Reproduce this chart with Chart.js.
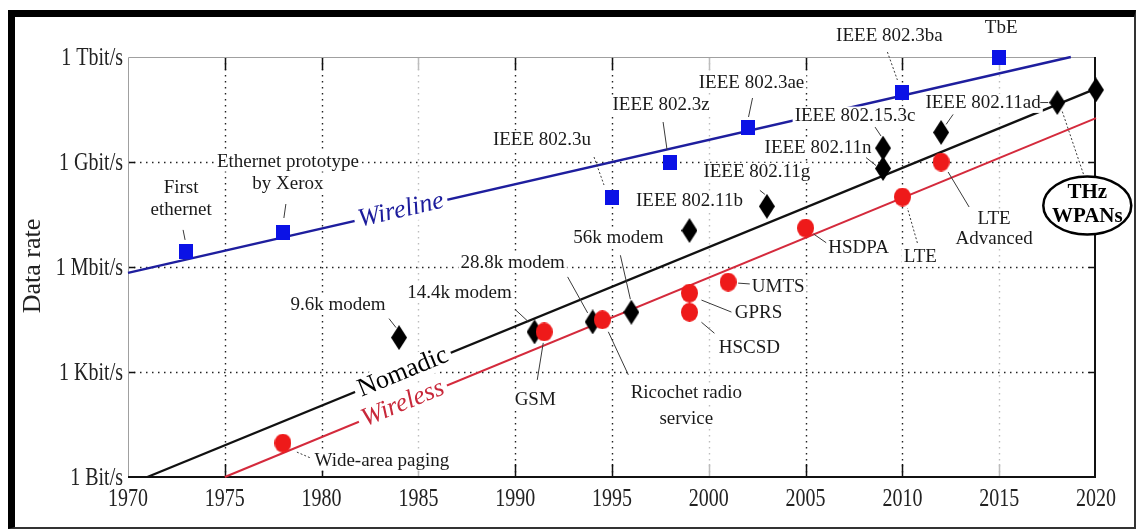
<!DOCTYPE html>
<html>
<head>
<meta charset="utf-8">
<title>Data rate</title>
<script src="https://cdn.jsdelivr.net/npm/chart.js@4.4.1/dist/chart.umd.min.js"></script>
<style>
  html, body { margin: 0; padding: 0; background: #fff; }
  #wrap { position: relative; width: 1136px; height: 529px; }
  #rateChart { display: block; }
  #frame {
    position: absolute; left: 8px; top: 10px; width: 1128px; height: 519px;
    box-sizing: border-box; pointer-events: none;
    border-left: 7px solid #000; border-top: 7px solid #000;
    border-right: 2px solid #333; border-bottom: 2px solid #333;
  }
</style>
</head>
<body>
<div id="wrap">
  <canvas id="rateChart" width="1136" height="529"></canvas>
  <div id="frame"></div>
</div>
<script>
// Ejes
const yearTicks = [1970, 1975, 1980, 1985, 1990, 1995, 2000, 2005, 2010, 2015, 2020];
const rateTicks = [1, 1e3, 1e6, 1e9, 1e12];
const rateTickLabels = ['1 Bit/s', '1 Kbit/s', '1 Mbit/s', '1 Gbit/s', '1 Tbit/s'];

// Wireline (cuadrados azules)
const wirelineYears = [1973, 1978, 1995, 1998, 2002, 2010, 2015];
const wirelineRates = [2.7e6, 1e7, 1e8, 1e9, 1e10, 1e11, 1e12];
const wirelineNames = [['First', 'ethernet'], ['Ethernet prototype', 'by Xerox'], ['IEEE 802.3u'],
  ['IEEE 802.3z'], ['IEEE 802.3ae'], ['IEEE 802.3ba'], ['TbE']];

// Nomadic (rombos negros)
const nomadicYears = [1984, 1991, 1994, 1996, 1999, 2003, 2009, 2009, 2012, 2018, 2020];
const nomadicRates = [9.6e3, 1.4e4, 2.7e4, 5.1e4, 1.1e7, 5.4e7, 6.5e8, 2.5e9, 7e9, 5e10, 1.15e11];
const nomadicNames = [['9.6k modem'], ['14.4k modem'], ['28.8k modem'], ['56k modem'], ['IEEE 802.11b'],
  ['IEEE 802.11g'], ['IEEE 802.11n'], ['IEEE 802.15.3c'], ['IEEE 802.11ad'], [], []];

// Wireless (círculos rojos)
const wirelessYears = [1978, 1991.5, 1994.5, 1999, 1999, 2001, 2005, 2010, 2012];
const wirelessRates = [9.3, 1.4e4, 3.1e4, 5.1e4, 1.8e5, 3.7e5, 1.3e7, 1e8, 1e9];
const wirelessNames = [['Wide-area paging'], ['GSM'], ['Ricochet radio', 'service'], ['HSCSD'], ['GPRS'],
  ['UMTS'], ['HSDPA'], ['LTE'], ['LTE', 'Advanced']];

// Rectas de tendencia
const wirelineTrendYears = [1970, 2018.7];
const wirelineTrendRates = [6.8e5, 1e12];
const nomadicTrendYears = [1971, 2020];
const nomadicTrendRates = [1, 1.25e11];
const wirelessTrendYears = [1975, 2020];
const wirelessTrendRates = [1, 1.8e10];
const trendNames = ['Wireline', 'Nomadic', 'Wireless'];
const thzName = ['THz', 'WPANs'];

// Posición de las etiquetas respecto a su marcador (px)
const wirelineNotes = [
  { dx: -5, dy: -64, lh: 22, lead: [-3, -22, -1, -12] },
  { dx: 5, dy: -70, lh: 22, lead: [3, -28, 1, -14] },
  { dx: -70, dy: -57, lead: [-18, -40, -8, -12], dash: true },
  { dx: -9, dy: -57, lead: [-7, -40, -3, -12] },
  { dx: 4, dy: -44, lead: [5, -29, 1, -10] },
  { dx: -13, dy: -56, lead: [-15, -40, -5, -12], dash: true },
  { dx: 2, dy: -29 }
];
const nomadicNotes = [
  { dx: -61, dy: -33, lead: [-10, -19, -3, -10] },
  { dx: -75, dy: -39, lead: [-19, -22, -6, -10] },
  { dx: -80, dy: -59, lead: [-25, -45, -5, -9] },
  { dx: -13, dy: -74, lead: [-11, -57, -1, -13] },
  { dx: 0, dy: -30 },
  { dx: -10, dy: -34, lead: [-7, -16, -2, -12] },
  { dx: -65, dy: -21, lead: [-17, -11, -7, -3] },
  { dx: -28, dy: -32, lead: [-8, -21, -2, -12] },
  { dx: 42, dy: -29, lead: [5, -8, 12, -18] },
  { lead: [-17, 0, -9, 0] },
  {}
];
const wirelessNotes = [
  { dx: 99, dy: 18, lead: [14, 9, 28, 15], dash: true },
  { dx: -9, dy: 68, lead: [-7, 48, -1, 11] },
  { dx: 84, dy: 73, lh: 26, lead: [26, 55, 6, 12] },
  { dx: 60, dy: 36, lead: [25, 21, 12, 10] },
  { dx: 69, dy: 20, lead: [42, 19, 12, 7] },
  { dx: 50, dy: 5, lead: [24, 2, 10, 1] },
  { dx: 53, dy: 20, lead: [21, 15, 8, 6] },
  { dx: 18, dy: 60, lead: [15, 46, 5, 11], dash: true },
  { dx: 53, dy: 57, lh: 20, lead: [28, 45, 7, 10] }
];
const thzNote = { of: 9, dx: 30, dy: 103, rx: 44, ry: 29, lead: [5, 9, 27, 74] };
const trendNotes = [
  { year: 1984.1, color: '#1c1c9c', font: 'italic 26px "Liberation Serif"' },
  { year: 1984.2, color: '#000', font: '26px "Liberation Serif"' },
  { year: 1984.2, color: '#c8283a', font: 'italic 26px "Liberation Serif"' }
];

const SERIF = '"Liberation Serif", "Times New Roman", serif';
const NOTE_FONT = '19px ' + SERIF;

// Marcadores dibujados a mano (los del original son algo alargados)
function makeMarker(w, h, draw) {
  const c = document.createElement('canvas');
  c.width = w; c.height = h;
  draw(c.getContext('2d'), w, h);
  return c;
}
const squareImg = makeMarker(14, 15, (g, w, h) => { g.fillStyle = '#0b12e6'; g.fillRect(0, 0, w, h); });
const diamondImg = makeMarker(16, 25, (g, w, h) => {
  g.fillStyle = '#000';
  g.beginPath(); g.moveTo(w / 2, 0); g.lineTo(w, h / 2); g.lineTo(w / 2, h); g.lineTo(0, h / 2); g.closePath(); g.fill();
});
const circleImg = makeMarker(17, 19, (g, w, h) => {
  g.fillStyle = '#ee1a1a';
  g.beginPath(); g.ellipse(w / 2, h / 2, w / 2, h / 2, 0, 0, Math.PI * 2); g.fill();
});

function txt(ctx, s, x, y, o) {
  ctx.save();
  ctx.translate(x, y);
  if (o.rot) ctx.rotate(o.rot);
  if (o.sy) ctx.scale(1, o.sy);
  ctx.font = o.font;
  ctx.textAlign = o.align || 'center';
  ctx.textBaseline = 'middle';
  if (o.bg) {
    const w = ctx.measureText(s).width;
    const x0 = o.align === 'right' ? -w : (o.align === 'left' ? 0 : -w / 2);
    ctx.fillStyle = '#fff';
    ctx.fillRect(x0 - o.bg, -o.bh / 2, w + 2 * o.bg, o.bh);
  }
  ctx.fillStyle = o.color || '#1a1a1a';
  ctx.fillText(s, 0, 0);
  ctx.restore();
}

function leader(ctx, p, l, dash) {
  ctx.save();
  ctx.strokeStyle = '#3a3a3a';
  ctx.lineWidth = 1;
  ctx.setLineDash(dash ? [2, 2] : []);
  ctx.beginPath();
  ctx.moveTo(p.x + l[0], p.y + l[1]);
  ctx.lineTo(p.x + l[2], p.y + l[3]);
  ctx.stroke();
  ctx.restore();
}

function drawNotes(chart) {
  const ctx = chart.ctx;
  const groups = [
    [chart.getDatasetMeta(0), wirelessNames, wirelessNotes],
    [chart.getDatasetMeta(1), nomadicNames, nomadicNotes],
    [chart.getDatasetMeta(2), wirelineNames, wirelineNotes]
  ];
  groups.forEach(([meta, names, notes]) => {
    meta.data.forEach((p, i) => {
      const n = notes[i];
      if (n.lead) leader(ctx, p, n.lead, n.dash);
      names[i].forEach((line, k) => {
        txt(ctx, line, p.x + n.dx, p.y + n.dy + k * (n.lh || 22), { font: NOTE_FONT, bg: 2, bh: 19 });
      });
    });
  });

  // Nombres de las tendencias, girados sobre su recta
  const x = chart.scales.x;
  [5, 4, 3].forEach((idx, k) => {
    const pts = chart.getDatasetMeta(idx).data;
    const a = pts[0], b = pts[1];
    const px = x.getPixelForValue(trendNotes[k].year);
    const py = a.y + (px - a.x) / (b.x - a.x) * (b.y - a.y);
    const rot = Math.atan2(b.y - a.y, b.x - a.x);
    txt(ctx, trendNames[k], px, py, { font: trendNotes[k].font, color: trendNotes[k].color, rot, bg: 4, bh: 26 });
  });

  // Óvalo THz WPANs
  const d = chart.getDatasetMeta(1).data[thzNote.of];
  leader(ctx, d, thzNote.lead, true);
  const cx = d.x + thzNote.dx, cy = d.y + thzNote.dy;
  ctx.save();
  ctx.beginPath();
  ctx.ellipse(cx, cy, thzNote.rx, thzNote.ry, 0, 0, Math.PI * 2);
  ctx.fillStyle = '#fff'; ctx.fill();
  ctx.lineWidth = 2.5; ctx.strokeStyle = '#000'; ctx.stroke();
  ctx.restore();
  txt(ctx, thzName[0], cx, cy - 13, { font: 'bold 21px ' + SERIF, color: '#000' });
  txt(ctx, thzName[1], cx, cy + 11, { font: 'bold 21px ' + SERIF, color: '#000' });
}

const decor = {
  id: 'decor',
  beforeDatasetsDraw(chart) {
    const { ctx, chartArea: a, scales: { x, y } } = chart;
    ctx.save();
    // Rejilla punteada
    ctx.lineWidth = 1.4;
    ctx.setLineDash([1.5, 4.5]);
    x.ticks.slice(1, -1).forEach(t => {
      const px = Math.round(x.getPixelForValue(t.value)) + 0.5;
      // 1985, 2000 y 2015 salen desvaídas en el original
      ctx.strokeStyle = (t.value - 1970) % 15 === 0 ? '#bdbdbd' : '#222';
      ctx.beginPath(); ctx.moveTo(px, a.top); ctx.lineTo(px, a.bottom); ctx.stroke();
    });
    ctx.strokeStyle = '#222';
    y.ticks.slice(1, -1).forEach(t => {
      const py = Math.round(y.getPixelForValue(t.value)) + 0.5;
      ctx.beginPath(); ctx.moveTo(a.left, py); ctx.lineTo(a.right, py); ctx.stroke();
    });
    // Marcas de los ejes
    ctx.setLineDash([]);
    ctx.lineWidth = 1.5;
    x.ticks.slice(1, -1).forEach(t => {
      const px = Math.round(x.getPixelForValue(t.value)) + 0.5;
      ctx.strokeStyle = (t.value - 1970) % 15 === 0 ? '#bdbdbd' : '#111';
      ctx.beginPath();
      ctx.moveTo(px, a.bottom); ctx.lineTo(px, a.bottom - 13);
      ctx.moveTo(px, a.top); ctx.lineTo(px, a.top + 13);
      ctx.stroke();
    });
    ctx.strokeStyle = '#111';
    y.ticks.slice(1, -1).forEach(t => {
      const py = Math.round(y.getPixelForValue(t.value)) + 0.5;
      ctx.beginPath();
      ctx.moveTo(a.left, py); ctx.lineTo(a.left + 7, py);
      ctx.moveTo(a.right, py); ctx.lineTo(a.right - 7, py);
      ctx.stroke();
    });
    // Caja
    ctx.lineWidth = 1;
    ctx.strokeStyle = '#a0a0a0';
    ctx.beginPath();
    ctx.moveTo(a.left + 0.5, a.bottom); ctx.lineTo(a.left + 0.5, a.top + 0.5); ctx.lineTo(a.right, a.top + 0.5);
    ctx.stroke();
    ctx.lineWidth = 2;
    ctx.strokeStyle = '#111';
    ctx.beginPath();
    ctx.moveTo(a.left, a.bottom); ctx.lineTo(a.right - 1, a.bottom); ctx.lineTo(a.right - 1, a.top);
    ctx.stroke();
    ctx.restore();

    // Etiquetas de los ejes (estiradas en vertical como en el original)
    const tickFont = '20px ' + SERIF;
    y.ticks.forEach((t, i) => {
      txt(ctx, rateTickLabels[i], a.left - 5, y.getPixelForValue(t.value) + 1, { font: tickFont, align: 'right', sy: 1.3, color: '#222' });
    });
    x.ticks.forEach(t => {
      txt(ctx, String(t.value), x.getPixelForValue(t.value), a.bottom + 22, { font: tickFont, sy: 1.3, color: '#222' });
    });
    txt(ctx, 'Data rate', 33, 266, { font: '26px ' + SERIF, rot: -Math.PI / 2, color: '#222' });
  },
  afterDatasetDraw(chart, args) {
    // después de la última recta y antes de los marcadores
    if (args.index === 3) drawNotes(chart);
  }
};

const toPoints = (xs, ys) => xs.map((v, i) => ({ x: v, y: ys[i] }));

const ctx = document.getElementById('rateChart').getContext('2d');
new Chart(ctx, {
  type: 'scatter',
  data: {
    datasets: [
      { label: 'Wireless', data: toPoints(wirelessYears, wirelessRates), pointStyle: circleImg, pointRadius: 9, order: 0, clip: false },
      { label: 'Nomadic', data: toPoints(nomadicYears, nomadicRates), pointStyle: diamondImg, pointRadius: 9, order: 1, clip: false },
      { label: 'Wireline', data: toPoints(wirelineYears, wirelineRates), pointStyle: squareImg, pointRadius: 9, order: 2, clip: false },
      { label: 'Wireless trend', data: toPoints(wirelessTrendYears, wirelessTrendRates), showLine: true,
        borderColor: '#d42a3c', borderWidth: 2, pointRadius: 0, order: 3, clip: false },
      { label: 'Nomadic trend', data: toPoints(nomadicTrendYears, nomadicTrendRates), showLine: true,
        borderColor: '#111', borderWidth: 2.4, pointRadius: 0, order: 4, clip: false },
      { label: 'Wireline trend', data: toPoints(wirelineTrendYears, wirelineTrendRates), showLine: true,
        borderColor: '#1e1e9e', borderWidth: 2.4, pointRadius: 0, order: 5, clip: false }
    ]
  },
  options: {
    responsive: false,
    animation: false,
    devicePixelRatio: 1,
    events: [],
    layout: { padding: { left: 128, top: 57, right: 40, bottom: 52 } },
    plugins: { legend: { display: false }, tooltip: { enabled: false } },
    scales: {
      x: {
        type: 'linear', display: false, min: 1970, max: 2020,
        afterBuildTicks: s => { s.ticks = yearTicks.map(v => ({ value: v })); }
      },
      y: {
        type: 'logarithmic', display: false, min: 1, max: 1e12,
        afterBuildTicks: s => { s.ticks = rateTicks.map(v => ({ value: v })); }
      }
    }
  },
  plugins: [decor]
});
</script>
</body>
</html>
